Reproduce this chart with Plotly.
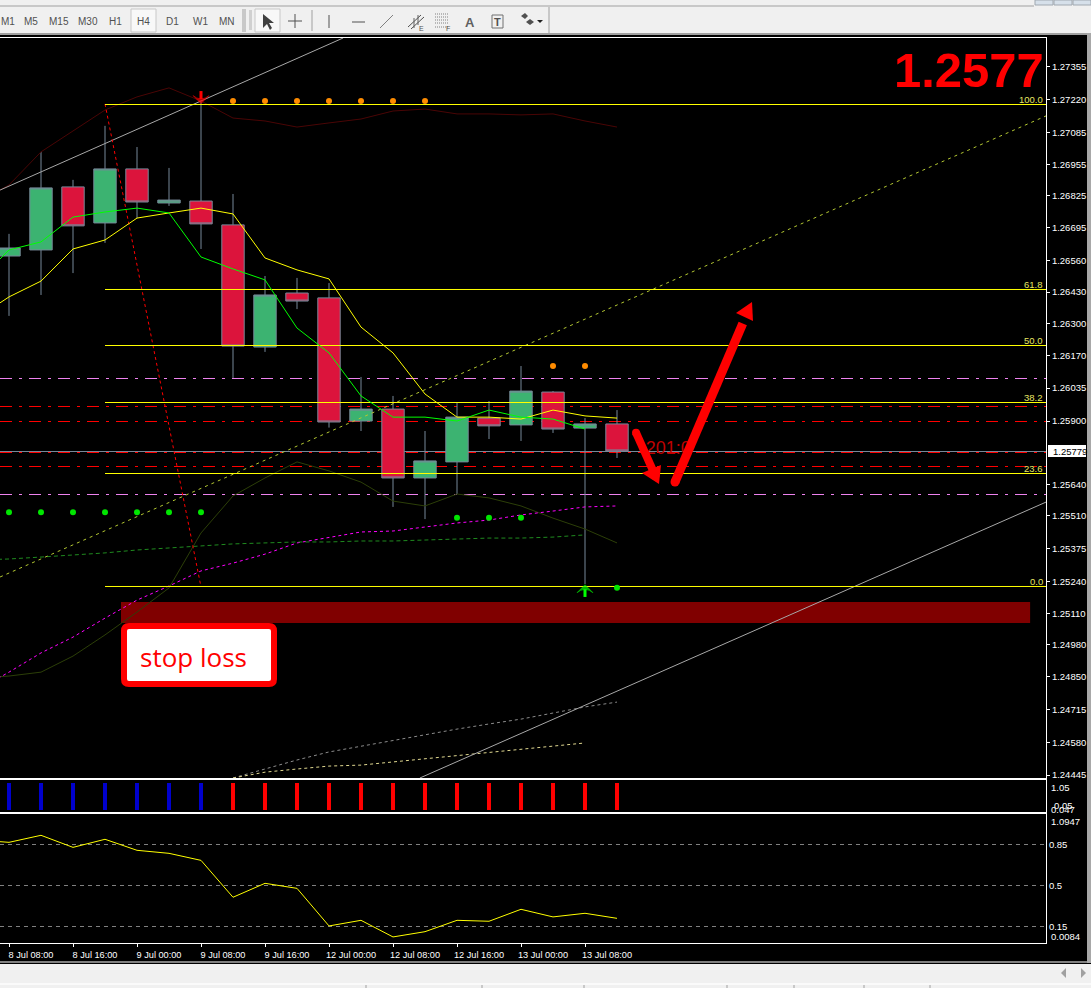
import math
import plotly.graph_objects as go

W, H = 1091, 988

# ---------- data ----------
bars = list(range(20))
opens  = [1.26578,1.26603,1.26862,1.26714,1.26936,1.26796,1.26804,1.26706,1.26204,1.26426,1.26406,1.25900,1.25949,1.25666,1.25732,1.25912,1.25884,1.26019,1.25871,1.25888]
highs  = [1.26669,1.27006,1.26891,1.27113,1.27026,1.26940,1.27219,1.26833,1.26496,1.26488,1.26467,1.26081,1.26003,1.25859,1.25974,1.25982,1.26126,1.26023,1.25912,1.25945]
lows   = [1.26332,1.26418,1.26508,1.26632,1.26734,1.26784,1.26607,1.26077,1.26184,1.26360,1.25873,1.25859,1.25547,1.25497,1.25600,1.25826,1.25818,1.25851,1.25230,1.25748]
closes = [1.26611,1.26858,1.26702,1.26936,1.26800,1.26808,1.26710,1.26208,1.26418,1.26393,1.25896,1.25949,1.25666,1.25736,1.25916,1.25880,1.26023,1.25867,1.25888,1.25777]

ma_x = list(range(-1, 20))
ma_slow = [1.26323,1.26410,1.26475,1.26607,1.26644,1.26734,1.26755,1.26775,1.26751,1.26570,1.26521,1.26484,1.26286,1.26180,1.26011,1.25916,1.25916,1.25908,1.25945,1.25921,1.25912]
ma_fast = [1.26471,1.26603,1.26636,1.26738,1.26759,1.26775,1.26755,1.26574,1.26525,1.26480,1.26282,1.26180,1.26003,1.25916,1.25916,1.25900,1.25945,1.25916,1.25908,1.25867]
band_upper = [1.26796,1.26870,1.27006,1.27092,1.27178,1.27232,1.27269,1.27215,1.27145,1.27133,1.27108,1.27125,1.27141,1.27174,1.27182,1.27162,1.27162,1.27158,1.27162,1.27133,1.27108]
band_lower = [1.24844,1.24852,1.24868,1.24934,1.25021,1.25115,1.25214,1.25440,1.25592,1.25666,1.25732,1.25695,1.25649,1.25571,1.25551,1.25600,1.25584,1.25551,1.25501,1.25456,1.25399]
magenta_dash = [1.24794,1.24868,1.24947,1.25012,1.25090,1.25164,1.25222,1.25284,1.25316,1.25353,1.25399,1.25423,1.25444,1.25448,1.25464,1.25481,1.25493,1.25514,1.25530,1.25547,1.25551]
green_dash = [1.25329,1.25333,1.25341,1.25349,1.25358,1.25370,1.25378,1.25386,1.25395,1.25399,1.25403,1.25403,1.25407,1.25407,1.25411,1.25415,1.25419,1.25419,1.25423,1.25432]
gray_dash_x = list(range(7, 20))
gray_dash = [1.24433,1.24470,1.24507,1.24540,1.24564,1.24585,1.24610,1.24634,1.24655,1.24675,1.24700,1.24725,1.24745]
khaki_dash_x = list(range(7, 19))
khaki_dash = [1.24433,1.24457,1.24470,1.24482,1.24486,1.24499,1.24511,1.24527,1.24540,1.24552,1.24564,1.24577]

channel_up_x, channel_up_y = [-0.28, 10.44], [1.26849, 1.27474]
channel_low_x, channel_low_y = [12.84, 32.41], [1.24433, 1.25567]
trend_lime_x, trend_lime_y = [-0.28, 32.41], [1.25259, 1.27154]
fib_trend_x, fib_trend_y = [3, 6], [1.27203, 1.25218]

fib_start, x_end = 3, 32.41
fib_prices = [1.272007, 1.264405, 1.262103, 1.259761, 1.256843, 1.252200]
fib_labels = ["100.0", "61.8", "50.0", "38.2", "23.6", "0.0"]
violet_levels = [1.260747, 1.255980]
red_levels = [1.259597, 1.258980, 1.257706, 1.257131]
bid_price = 1.257747
bid_label = "1.25779"

orange_x1 = [7, 8, 9, 10, 11, 12, 13]
orange_y1 = [1.27215] * 7
orange_x2 = [17, 18]
orange_y2 = [1.26126] * 2
lime_x = [0, 1, 2, 3, 4, 5, 6, 14, 15, 16, 19]
lime_y = [1.25525]*7 + [1.25502]*3 + [1.25215]

stop_zone_x = [3.5, 31.91]
stop_zone_y = [1.25070, 1.25156]

signal_blue_x = [0, 1, 2, 3, 4, 5, 6]
signal_blue = [1] * 7
signal_red_x = list(range(7, 20))
signal_red = [1] * 13

osc = [0.887,0.867,0.927,0.824,0.893,0.799,0.773,0.713,0.398,0.517,0.474,0.153,0.201,0.059,0.104,0.201,0.193,0.295,0.230,0.261,0.218]

price_ticks = [1.27355,1.27220,1.27085,1.26955,1.26825,1.26695,1.26560,1.26430,1.26300,1.26170,1.26035,1.25900,1.25640,1.25510,1.25375,1.25240,1.25110,1.24980,1.24850,1.24715,1.24580,1.24445]
time_ticks = [0, 2, 4, 6, 8, 10, 12, 14, 16, 18]
time_labels = ["8 Jul 08:00","8 Jul 16:00","9 Jul 00:00","9 Jul 08:00","9 Jul 16:00","12 Jul 00:00","12 Jul 08:00","12 Jul 16:00","13 Jul 00:00","13 Jul 08:00"]
osc_ticks = [0.85, 0.5, 0.15]
toolbar_labels = {"M5":31,"M15":59,"M30":87.5,"H1":115,"H4":143,"D1":172,"W1":200,"MN":227}

# ---------- helpers ----------
def px(x): return x / W
def py(y): return 1 - y / H
def path(points, close=True):
    s = "M " + " L ".join(f"{px(a):.5f},{py(b):.5f}" for a, b in points)
    return s + (" Z" if close else "")

XR = [-0.28125, 32.40625]
FONT = "Liberation Sans"
shapes, anns = [], []

def rect(x0, y0, x1, y1, fill, lw=0, lc=None, layer="above"):
    shapes.append(dict(type="rect", xref="paper", yref="paper", x0=px(x0), x1=px(x1), y0=py(y0), y1=py(y1),
                       fillcolor=fill, line=dict(width=lw, color=lc or fill), layer=layer))
def seg(x0, y0, x1, y1, color, w=1, dash=None, layer="above"):
    shapes.append(dict(type="line", xref="paper", yref="paper", x0=px(x0), x1=px(x1), y0=py(y0), y1=py(y1),
                       line=dict(color=color, width=w, dash=dash or "solid"), layer=layer))
def poly(points, fill, layer="above"):
    shapes.append(dict(type="path", xref="paper", yref="paper", path=path(points), fillcolor=fill,
                       line=dict(width=0), layer=layer))
def text(x, y, s, color="#ffffff", size=10, anchor="left", bg=None, font=FONT, bold=False):
    anns.append(dict(xref="paper", yref="paper", x=px(x), y=py(y), text=f"<b>{s}</b>" if bold else s, showarrow=False,
                     xanchor=anchor, yanchor="middle", align=anchor, bgcolor=bg, borderpad=0,
                     font=dict(color=color, size=size, family=font)))
def big_arrow(x0, y0, tip, barb1, barb2, w=8):
    dx, dy = tip[0]-x0, tip[1]-y0
    L = math.hypot(dx, dy); nx, ny = -dy/L*w/2, dx/L*w/2
    ex, ey = x0+dx*0.88, y0+dy*0.88
    poly([(x0+nx,y0+ny),(ex+nx,ey+ny),(ex-nx,ey-ny),(x0-nx,y0-ny)], "#ff0000")
    r = w/2
    shapes.append(dict(type="circle", xref="paper", yref="paper", x0=px(x0-r), x1=px(x0+r), y0=py(y0-r), y1=py(y0+r),
                       fillcolor="#ff0000", line=dict(width=0), layer="above"))
    poly([tip, barb1, barb2], "#ff0000")

# ---------- levels under the candles ----------
DD = "12px,7px,3px,7px"
for lv in violet_levels:
    shapes.append(dict(type="line", xref="x", yref="y", x0=XR[0], x1=XR[1], y0=lv, y1=lv,
                       line=dict(color="#ee82ee", width=1, dash=DD), layer="below"))
for lv in red_levels:
    shapes.append(dict(type="line", xref="x", yref="y", x0=XR[0], x1=XR[1], y0=lv, y1=lv,
                       line=dict(color="#ff0000", width=1, dash=DD), layer="below"))
shapes.append(dict(type="line", xref="x", yref="y", x0=XR[0], x1=XR[1], y0=bid_price, y1=bid_price,
                   line=dict(color="#778899", width=1), layer="below"))
shapes.append(dict(type="rect", xref="x", yref="y", x0=stop_zone_x[0], x1=stop_zone_x[1], y0=stop_zone_y[0], y1=stop_zone_y[1],
                   fillcolor="#800000", line=dict(width=0), layer="below"))

# ---------- traces ----------
fig = go.Figure()
fig.add_trace(go.Candlestick(x=bars, open=opens, high=highs, low=lows, close=closes, xaxis="x", yaxis="y",
    increasing=dict(line=dict(color="#778899", width=1), fillcolor="#3cb371"),
    decreasing=dict(line=dict(color="#778899", width=1), fillcolor="#dc143c"),
    whiskerwidth=0, hoverinfo="skip"))

def line(x, y, color, w=1, dash="solid"):
    fig.add_trace(go.Scatter(x=x, y=y, mode="lines", line=dict(color=color, width=w, dash=dash), hoverinfo="skip"))

line(ma_x, band_upper, "#4a0505")
line(ma_x, band_lower, "#2c3f08")
line(ma_x, magenta_dash, "#ff00ff", dash="3px,3px")
line(ma_x[:len(green_dash)], green_dash, "#1f8a1f", dash="4px,3px")
line(gray_dash_x, gray_dash, "#8c8c8c", dash="3px,3px")
line(khaki_dash_x, khaki_dash, "#e0d890", dash="3px,3px")
line(channel_up_x, channel_up_y, "#a8a8a8")
line(channel_low_x, channel_low_y, "#a8a8a8")
line(trend_lime_x, trend_lime_y, "#b4c832", dash="3px,4px")
line(fib_trend_x, fib_trend_y, "#ff0000", dash="3px,3px")
for p in fib_prices:
    line([fib_start, x_end], [p, p], "#ffff00")
line(ma_x, ma_slow, "#ffff00")
line(ma_x[:len(ma_fast)], ma_fast, "#00ff00")

fig.add_trace(go.Scatter(x=orange_x1 + orange_x2, y=orange_y1 + orange_y2, mode="markers",
                         marker=dict(color="#ff8c00", size=6), hoverinfo="skip"))
fig.add_trace(go.Scatter(x=lime_x, y=lime_y, mode="markers", marker=dict(color="#00e600", size=6), hoverinfo="skip"))

# signal arrows
fig.add_trace(go.Scatter(x=[6, 6], y=[1.27256, 1.27205], mode="lines+markers", line=dict(color="#ff0000", width=3),
                         marker=dict(color="#ff0000", size=[0, 11], symbol="arrow-wide", angleref="previous",
                                     line=dict(color="#ff0000", width=1)),
                         hoverinfo="skip"))
fig.add_trace(go.Scatter(x=[18, 18], y=[1.25177, 1.25227], mode="lines+markers", line=dict(color="#00ff00", width=3),
                         marker=dict(color="#00ff00", size=[0, 11], symbol="arrow-wide", angleref="previous",
                                     line=dict(color="#00ff00", width=1)),
                         hoverinfo="skip"))
fig.add_trace(go.Scatter(x=[20.6], y=[1.25781], mode="text", text=["201:0"], textposition="middle center",
                         textfont=dict(color="#c00000", size=18, family=FONT), hoverinfo="skip"))

# panel 2 and panel 3
fig.add_trace(go.Bar(x=signal_blue_x, y=signal_blue, width=0.15, marker=dict(color="#0000cd", line=dict(width=0)),
                     xaxis="x2", yaxis="y2", hoverinfo="skip"))
fig.add_trace(go.Bar(x=signal_red_x, y=signal_red, width=0.15, marker=dict(color="#ff0000", line=dict(width=0)),
                     xaxis="x2", yaxis="y2", hoverinfo="skip"))
fig.add_trace(go.Scatter(x=ma_x, y=osc, mode="lines", line=dict(color="#ffff00", width=1), xaxis="x3", yaxis="y3", hoverinfo="skip"))

# ---------- labels drawn in the chart ----------
for lbl, p in zip(fib_labels, fib_prices):
    anns.append(dict(xref="paper", yref="y", x=px(1045), y=p, yshift=5, text=lbl, showarrow=False, xanchor="right", yanchor="middle",
                     font=dict(color="#e6e664", size=9.5, family=FONT)))
text(1045, 70, "1.2577", color="#ff0000", size=49, anchor="right", bold=True)
rect(1048, 445, 1086, 457, "#ffffff")
text(1052, 451.5, bid_label, color="#000000", size=9.5)
text(1050, 787, "1.05", size=9.5)
text(1053, 805, "0.05", size=9.5)
text(1050, 809, "0.047", size=9.5)
text(1050, 821, "1.0947", size=9.5)
text(1050, 936.5, "0.0084", size=9.5)

# stop-loss box
def rounded(x0, y0, x1, y1, r):
    a = lambda x, y: f"{px(x):.5f},{py(y):.5f}"
    return (f"M {a(x0+r,y0)} L {a(x1-r,y0)} Q {a(x1,y0)} {a(x1,y0+r)} L {a(x1,y1-r)} Q {a(x1,y1)} {a(x1-r,y1)} "
            f"L {a(x0+r,y1)} Q {a(x0,y1)} {a(x0,y1-r)} L {a(x0,y0+r)} Q {a(x0,y0)} {a(x0+r,y0)} Z")
shapes.append(dict(type="path", xref="paper", yref="paper", path=rounded(124, 626, 274, 684, 5), fillcolor="#ffffff",
                   line=dict(color="#ff0000", width=6), layer="above"))
text(139, 657, "stop loss", color="#ff0000", size=26, font="Open Sans")

# hand-drawn arrows
big_arrow(636, 432.7, (659, 484), (642, 473), (661, 465))
big_arrow(675, 482, (752, 302), (736, 313), (753, 321), w=9)

# ---------- window chrome ----------
rect(0, 0, W, 33, "#f0f0f0")
seg(0, 6, 1034, 6, "#a0a0a0")
rect(0, 33, 1087, 35, "#a0a0a0")
for x0, x1 in [(1035, 1053), (1054, 1072), (1073, 1091)]:
    rect(x0, 0, x1, 5, "#d6e0ea", lw=1, lc="#a0a8b0")
rect(1087, 33, W, 963, "#a8a8a8")
seg(0, 962, 1087, 962, "#ffffff")
rect(0, 963, W, 964, "#000000")
rect(0, 964, W, 983, "#f0f0f0")
rect(0, 983, W, 985, "#fafafa")
rect(0, 985, W, H, "#f0f0f0")
for x in [366, 482, 584, 727, 794, 864, 930]:
    seg(x, 985, x, H, "#a0a0a0")
poly([(1061, 973), (1066, 968), (1066, 978)], "#a0a0a0")
poly([(1086, 973), (1081, 968), (1081, 978)], "#a0a0a0")

rect(131, 9, 156, 32, "#f8f8f8", lw=1, lc="#c8c8c8")
rect(255, 9, 280, 32, "#f8f8f8", lw=1, lc="#c8c8c8")
text(0, 21, "M1", color="#505050", size=10)
for lbl, x in toolbar_labels.items():
    text(x, 21, lbl, color="#505050", size=10, anchor="center")
seg(243, 9, 243, 32, "#a0a0a0"); seg(245, 9, 245, 32, "#a0a0a0")
for y in range(11, 31, 2):
    seg(249, y, 252, y, "#b0b0b0")
poly([(263, 14), (263, 28), (267, 24), (270, 30), (272, 28), (269, 23), (274, 23)], "#404040")
seg(288, 21, 302, 21, "#505050"); seg(295, 14, 295, 28, "#505050")
seg(312, 10, 312, 31, "#a0a0a0")
seg(329, 15, 329, 28, "#505050")
seg(352, 22, 365, 22, "#505050")
seg(380, 28, 393, 15, "#808080")
seg(408, 27, 421, 15, "#505050"); seg(411, 29, 424, 17, "#505050"); seg(414, 18, 414, 28, "#606060"); seg(418, 15, 418, 25, "#606060")
text(418, 28, "E", color="#505050", size=7)
for y in (14, 17, 20, 23, 27):
    seg(435, y, 449, y, "#808080", dash="1px,1px")
text(445, 28, "F", color="#505050", size=7)
text(470, 22, "A", color="#606060", size=13, anchor="center", bold=True)
rect(492, 15, 503, 28, "#f0f0f0", lw=1, lc="#707070")
text(497.5, 22, "T", color="#505050", size=11, anchor="center", bold=True)
poly([(521, 16), (525, 13), (528, 16), (525, 19)], "#505050")
poly([(526, 22), (530, 19), (534, 22), (530, 25)], "#505050")
poly([(537, 20), (543, 20), (540, 23)], "#202020")
seg(549, 7, 549, 33, "#a0a0a0")

# ---------- layout ----------
tick_font = dict(color="#ffffff", size=9.5, family=FONT)
hidden_x = dict(range=XR, showgrid=False, zeroline=False, showticklabels=False, ticks="", showline=True, linecolor="#ffffff", linewidth=1, mirror=True, fixedrange=True)

fig.update_layout(
    width=W, height=H+2, autosize=False, showlegend=False, bargap=0, boxgap=0,
    margin=dict(l=0, r=0, t=0, b=2, autoexpand=False), paper_bgcolor="#000000", plot_bgcolor="#000000",
    xaxis=dict(**hidden_x, anchor="y", domain=[0, 1046/W], rangeslider=dict(visible=False)),
    xaxis2=dict(**hidden_x, anchor="y2", domain=[0, 1046/W]),
    xaxis3=dict(range=XR, anchor="y3", domain=[0, 1046/W], showgrid=False, zeroline=False, showline=True, linecolor="#ffffff", linewidth=1, mirror=True,
                tickmode="array", tickvals=time_ticks, ticktext=time_labels, ticks="outside", ticklen=3, tickcolor="#ffffff",
                tickfont=dict(color="#ffffff", size=9.2, family=FONT), ticklabelshift=22, fixedrange=True),
    yaxis=dict(domain=[1-778/H, 1-38/H], range=[1.24433, 1.27474], side="right", anchor="x", showgrid=False, zeroline=False,
               showline=True, linecolor="#ffffff", linewidth=1, tickmode="array", tickvals=price_ticks,
               ticktext=[f"{v:.5f}" for v in price_ticks], ticks="outside", ticklen=3, tickcolor="#ffffff", tickfont=tick_font, fixedrange=True),
    yaxis2=dict(domain=[1-812/H, 1-780/H], range=[-0.074, 1.111], side="right", anchor="x2", showgrid=False, zeroline=False,
                showline=True, linecolor="#ffffff", linewidth=1, showticklabels=False, ticks="", fixedrange=True),
    yaxis3=dict(domain=[1-943/H, 1-814/H], range=[0.0073, 1.109], side="right", anchor="x3", zeroline=False,
                showline=True, linecolor="#ffffff", linewidth=1, tickmode="array", tickvals=osc_ticks,
                ticktext=[str(v) for v in osc_ticks], ticks="", showgrid=True, gridcolor="#808080", griddash="4px,4px", gridwidth=1,
                tickfont=tick_font, fixedrange=True),
    shapes=shapes, annotations=anns,
)

fig.write_html("out.html", config=dict(displayModeBar=False),
               post_script="document.body.style.margin='0';document.body.style.overflow='hidden';")
